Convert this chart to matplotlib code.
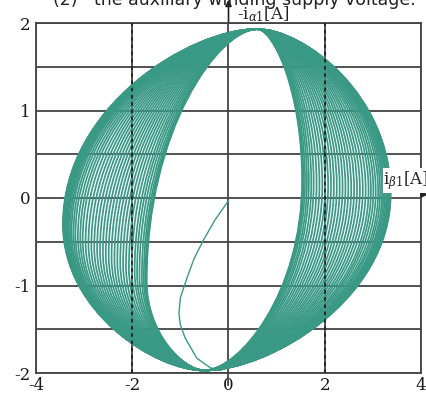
import matplotlib.pyplot as plt
from matplotlib.patches import PathPatch
from matplotlib.path import Path
from matplotlib.ticker import MultipleLocator

# each current loop, inner loop first: widest point on the left and on the right
left_amp = [1.70, 1.71, 1.73, 1.76, 1.80, 1.85, 1.90, 1.95, 2.01, 2.07,
            2.13, 2.19, 2.25, 2.31, 2.37, 2.43, 2.49, 2.55, 2.61, 2.67,
            2.73, 2.79, 2.85, 2.91, 2.97, 3.03, 3.08, 3.13, 3.18, 3.22,
            3.26, 3.29, 3.32, 3.34, 3.36, 3.38, 3.39, 3.40, 3.41, 3.42,
            3.42, 3.43, 3.43, 3.44]
left_at = [-0.95, -0.94, -0.93, -0.92, -0.90, -0.88, -0.86, -0.84, -0.82, -0.80,
           -0.78, -0.76, -0.74, -0.72, -0.70, -0.68, -0.66, -0.64, -0.62, -0.60,
           -0.58, -0.56, -0.54, -0.52, -0.50, -0.48, -0.46, -0.44, -0.42, -0.40,
           -0.38, -0.37, -0.36, -0.35, -0.34, -0.33, -0.33, -0.32, -0.32, -0.31,
           -0.31, -0.30, -0.30, -0.30]
right_amp = [1.53, 1.54, 1.56, 1.59, 1.63, 1.67, 1.72, 1.77, 1.83, 1.89,
             1.95, 2.01, 2.07, 2.13, 2.19, 2.25, 2.31, 2.37, 2.43, 2.49,
             2.55, 2.61, 2.67, 2.73, 2.79, 2.85, 2.91, 2.96, 3.01, 3.06,
             3.11, 3.15, 3.19, 3.22, 3.25, 3.28, 3.30, 3.32, 3.33, 3.34,
             3.35, 3.36, 3.36, 3.37]
right_at = [0.20, 0.20, 0.19, 0.19, 0.18, 0.18, 0.17, 0.17, 0.16, 0.16,
            0.15, 0.15, 0.14, 0.14, 0.13, 0.13, 0.12, 0.12, 0.11, 0.11,
            0.10, 0.10, 0.10, 0.09, 0.09, 0.09, 0.08, 0.08, 0.08, 0.07,
            0.07, 0.07, 0.06, 0.06, 0.06, 0.06, 0.05, 0.05, 0.05, 0.05,
            0.05, 0.05, 0.05, 0.05]
loop_top = (0.6, 1.93)
loop_bottom = (-0.5, -1.97)

# start-up transient from the origin into the first loop
start_x = [0.0, -0.28, -0.53, -0.72, -0.86, -1.0, -1.03, -1.0, -0.9, -0.66, -0.38, -0.15]
start_y = [-0.03, -0.25, -0.49, -0.70, -0.91, -1.14, -1.32, -1.45, -1.6, -1.83, -1.94, -1.97]

x_ticks = [-4, -2, 0, 2, 4]
y_ticks = [-2, -1, 0, 1, 2]

teal = '#3a9985'
grid_c = '#444444'
k_side, k_tip = 0.6, 0.35   # bezier handle lengths, gives the pointed ends


def loop_path(wl, yl, wr, yr):
    (xt, yt), (xb, yb) = loop_top, loop_bottom
    verts = [(xt, yt),
             (xt + k_tip * (wr - xt), yt), (wr, yr + k_side * (yt - yr)), (wr, yr),
             (wr, yr - k_side * (yr - yb)), (xb + k_tip * (wr - xb), yb), (xb, yb),
             (xb - k_tip * (xb + wl), yb), (-wl, yl - k_side * (yl - yb)), (-wl, yl),
             (-wl, yl + k_side * (yt - yl)), (xt - k_tip * (xt + wl), yt), (xt, yt)]
    codes = [Path.MOVETO] + [Path.CURVE4] * 12
    return Path(verts, codes)


fig = plt.figure(figsize=(4.27, 3.96), dpi=100)
ax = fig.add_axes([36 / 427, 1 - 373 / 396, 385 / 427, 350 / 396])

ax.set_xlim(-4, 4)
ax.set_ylim(-2, 2)
ax.set_xticks(x_ticks)
ax.set_yticks(y_ticks)
ax.set_xticklabels([str(v) for v in x_ticks])
ax.set_yticklabels([str(v) for v in y_ticks])
ax.yaxis.set_minor_locator(MultipleLocator(0.5))
ax.tick_params(which='both', length=0, labelsize=12, colors='#1a1a1a')
ax.tick_params(axis='x', pad=3)
ax.tick_params(axis='y', pad=4)
for lab in ax.get_xticklabels() + ax.get_yticklabels():
    lab.set_family('DejaVu Serif')
ax.set_axisbelow(True)
ax.xaxis.grid(True, which='major', color=grid_c, lw=1.3)
ax.yaxis.grid(True, which='both', color=grid_c, lw=1.3)
for sp in ax.spines.values():
    sp.set_color(grid_c)
    sp.set_linewidth(1.3)

for wl, yl, wr, yr in zip(left_amp, left_at, right_amp, right_at):
    ax.add_patch(PathPatch(loop_path(wl, yl, wr, yr), facecolor='none',
                           edgecolor=teal, lw=1.25, zorder=2))
ax.plot(start_x, start_y, color=teal, lw=1.0, zorder=2)

# dotted grid lines that show through the gaps between loops
for xv in (-2, 2):
    ax.axvline(xv, color='#222222', lw=1.3, ls=(0, (2, 2)), zorder=3)

# axis arrows and labels
ax.annotate('', xy=(0, 2.3), xytext=(0, 1.98),
            arrowprops=dict(arrowstyle='-|>', color='#222222', lw=1.2,
                            mutation_scale=9), annotation_clip=False)
ax.plot([0, 0], [-2, -2.14], color=grid_c, lw=1.3, clip_on=False)
ax.annotate('', xy=(4.2, 0.04), xytext=(4.0, 0.04),
            arrowprops=dict(arrowstyle='-|>', color='#222222', lw=1.2,
                            mutation_scale=9), annotation_clip=False)
plt.rcParams['mathtext.fontset'] = 'dejavuserif'
ax.text(0.17, 2.1, r'-i$_{\alpha1}$[A]', fontsize=12, family='DejaVu Serif',
        color='#222222', va='center', ha='left', clip_on=False)
ax.text(3.22, 0.2, r'i$_{\beta1}$[A]', fontsize=12, family='DejaVu Serif',
        color='#222222', va='center', ha='left', clip_on=False, zorder=4,
        bbox=dict(facecolor='white', edgecolor='none', pad=0.5))

fig.text(0.55, 1 - 5 / 396, '(2)   the auxiliary winding supply voltage.',
         fontsize=12.5, family='DejaVu Sans', color='#222222',
         ha='center', va='baseline')

fig.savefig('out.png', dpi=100)
